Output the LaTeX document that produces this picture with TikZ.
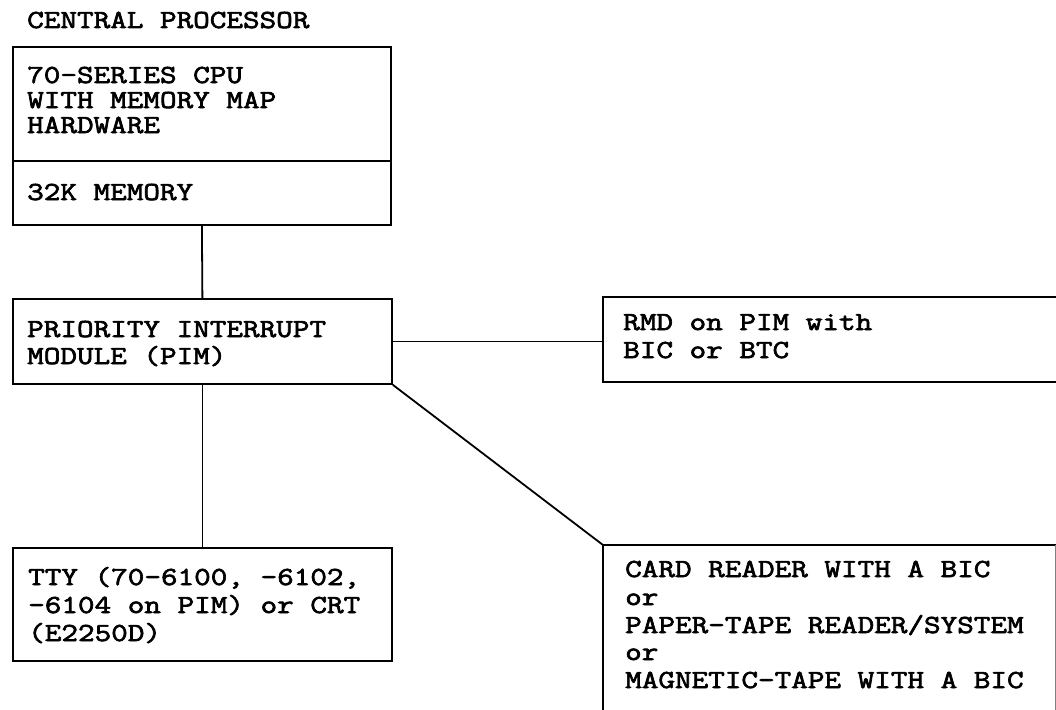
\documentclass[tikz,border=0pt]{standalone}
\usepackage{fontspec}
\setmonofont{Latin Modern Mono}[FakeStretch=1.24, FakeBold=2.6]
\begin{document}
\begin{tikzpicture}[x=1pt,y=-1pt,
  frame/.style={draw, line width=1.8pt, rectangle, inner sep=0pt, anchor=north west},
  label/.style={font=\fontsize{26}{26}\ttfamily, anchor=base west, inner sep=0pt,
    text height=16pt, text depth=5pt},
  wire/.style={line width=1.8pt}]
\useasboundingbox (0,0) rectangle (1056,709);
\clip (0,0) rectangle (1056,709);

% heading
\node[label] (title) at (27,28) {CENTRAL PROCESSOR};

% central processor: CPU and memory
\node[frame, minimum width=378, minimum height=114] (cpu) at (12,46) {};
\node[frame, minimum width=378, minimum height=64] (mem) at (12,160) {};
\node[label] (cpu1) at (27,83) {70-SERIES CPU};
\node[label] (cpu2) at (27,108) {WITH MEMORY MAP};
\node[label] (cpu3) at (27,133) {HARDWARE};
\node[label] (mem1) at (27,200) {32K MEMORY};

% priority interrupt module
\node[frame, minimum width=379, minimum height=85] (pim) at (12,298) {};
\node[label] (pim1) at (27,337) {PRIORITY INTERRUPT};
\node[label] (pim2) at (27,364) {MODULE (PIM)};

% RMD box, open to the right
\node[frame, draw=none, minimum width=480, minimum height=83] (rmd) at (603,297) {};
\draw[wire] (rmd.north east) -- (rmd.north west) -- (rmd.south west) -- (rmd.south east);
\node[label] (rmd1) at (623,330) {RMD on PIM with};
\node[label] (rmd2) at (623,358) {BIC or BTC};

% terminal box
\node[frame, minimum width=379, minimum height=113] (tty) at (12,547) {};
\node[label] (tty1) at (28,585) {TTY (70-6100, -6102,};
\node[label] (tty2) at (28,613) {-6104 on PIM) or CRT};
\node[label] (tty3) at (28,641) {(E2250D)};

% reader box, running off the bottom
\node[frame, draw=none, minimum width=451, minimum height=190] (card) at (603,545) {};
\draw[wire] (card.north east) -- (card.north west) -- (card.south west);
\draw[line width=0.8pt, gray] (card.north east) -- (card.south east);
\node[label] (card1) at (625,577) {CARD READER WITH A BIC};
\node[label] (card2) at (625,605) {or};
\node[label] (card3) at (625,633) {PAPER-TAPE READER/SYSTEM};
\node[label] (card4) at (625,660) {or};
\node[label] (card5) at (625,688) {MAGNETIC-TAPE WITH A BIC};

% connections
\draw[wire] (mem.south) -- (pim.north);
\draw[wire] (pim.east) -- (pim.east -| rmd.west);
\draw[wire] (pim.south) -- (tty.north);
\draw[wire] (pim.south east) -- (card.north west);
\end{tikzpicture}
\end{document}
